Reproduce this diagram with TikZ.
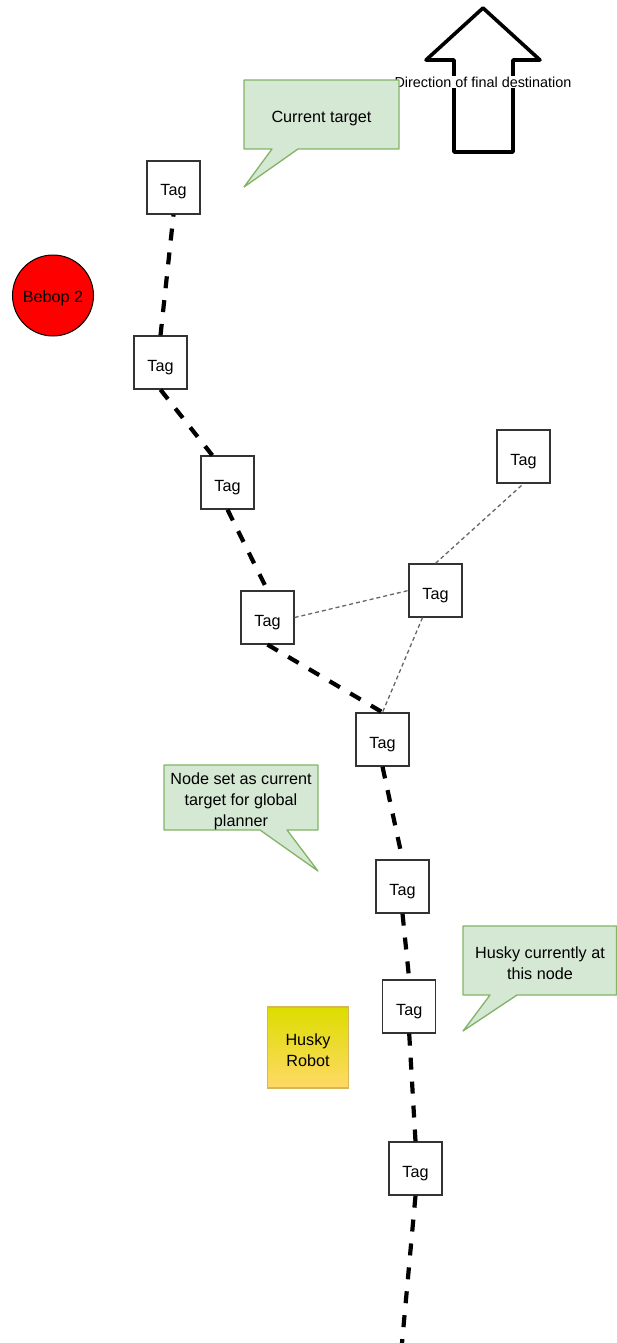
\documentclass[tikz,border=0pt]{standalone}
\usepackage{fontspec}
\setmainfont{Liberation Sans}
\usetikzlibrary{calc}
\definecolor{cfill}{HTML}{D5E8D4}
\definecolor{cdraw}{HTML}{82B366}
\definecolor{huskytop}{HTML}{DDDD00}
\definecolor{huskybot}{HTML}{FFD966}
\definecolor{huskydraw}{HTML}{D6B656}
\begin{document}
\begin{tikzpicture}[x=1pt,y=-1pt,
  tag/.style={draw=black!80, line width=1.3pt, fill=white, minimum width=53pt, minimum height=53pt, inner sep=0pt, text height=17.5pt, text depth=0.5pt, font=\fontsize{16.2}{19}\selectfont},
  trail/.style={line width=4.2pt, dash pattern=on 12pt off 12pt},
  link/.style={draw=black!60, line width=1.3pt, dash pattern=on 4pt off 3pt},
  callout/.style={fill=cfill, draw=cdraw, line width=1.3pt, line join=round},
  ctext/.style={align=center, inner sep=0pt, font=\fontsize{16.2}{20.7}\selectfont},
]
\useasboundingbox (0,0) rectangle (616,1343);

% direction arrow
\draw[line width=3.6pt, line join=round, fill=white] (483,8) -- (540,60) -- (513,60) -- (513,152) -- (454,152) -- (454,60) -- (426,60) -- cycle;
\node[fill=white, inner sep=1pt, font=\fontsize{14.4}{17}\selectfont] (dir) at (483,82) {Direction of final destination};

% callout 1
\draw[callout] (244,80) -- (399,80) -- (399,149) -- (298,149) -- (244,187) -- (272,149) -- (244,149) -- cycle;
\node[ctext] (c1) at (321.5,119) {Current target};

% callout 2
\draw[callout] (164,765) -- (318,765) -- (318,830) -- (287,830) -- (318,871) -- (260,830) -- (164,830) -- cycle;
\node[ctext] (c2) at (241,801.5) {Node set as current\\target for global\\planner};

% callout 3
\draw[callout] (463,926) -- (616.5,926) -- (616.5,995) -- (517,995) -- (463,1031) -- (490,995) -- (463,995) -- cycle;
\node[ctext] (c3) at (540,963) {Husky currently at\\this node};

% Bebop 2
\node[circle, draw=black, line width=1pt, fill=red, minimum size=81pt, inner sep=0pt, text height=15pt, text depth=1pt, font=\fontsize{16.2}{19}\selectfont] (bebop) at (53,295.5) {Bebop 2};

% Husky robot
\node[draw=huskydraw, line width=1.3pt, top color=huskytop, bottom color=huskybot, minimum width=81pt, minimum height=81pt, inner sep=0pt] (husky) at (308,1047.5) {};
\node[ctext] (huskylabel) at (308,1050.5) {Husky\\Robot};

% tags
\node[tag] (t1) at (173.5,187.5) {Tag};
\node[tag] (t2) at (160.5,362.5) {Tag};
\node[tag] (t3) at (227.5,482.5) {Tag};
\node[tag] (t4) at (267.5,617.5) {Tag};
\node[tag] (t5) at (435.5,590.5) {Tag};
\node[tag] (t6) at (523.5,456.5) {Tag};
\node[tag] (t7) at (382.5,739.5) {Tag};
\node[tag] (t8) at (402.5,886.5) {Tag};
\node[tag] (t9) at (409.2,1006.5) {Tag};
\node[tag] (t10) at (415.5,1168.5) {Tag};
\coordinate (tend) at (402,1343);

% trail (thick dashed)
\draw[trail, dash phase=10pt] (t1.south) -- (t2.north);
\draw[trail] (t2.south) -- ($(t3.north west)!0.22!(t3.north east)$);
\draw[trail] (t3.south) -- (t4.north);
\draw[trail] (t4.south) -- (t7.north);
\draw[trail] (t7.south) -- (t8.north);
\draw[trail] (t8.south) -- (t9.north);
\draw[trail] (t9.south) -- (t10.north);
\draw[trail] (t10.south) -- (tend);

% thin dotted links
\draw[link] (t4.east) -- (t5.west);
\draw[link] ($(t5.south west)!0.26!(t5.south east)$) -- (t7.north);
\draw[link] (t5.north) -- (t6.south);
\end{tikzpicture}
\end{document}
